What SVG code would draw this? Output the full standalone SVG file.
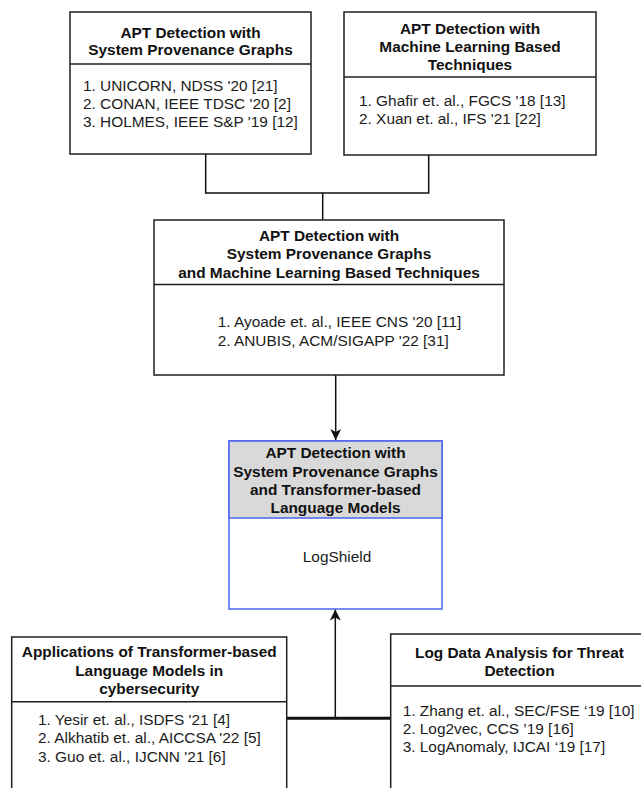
<svg xmlns="http://www.w3.org/2000/svg" width="641" height="788" viewBox="0 0 641 788">
<style>
  .box { fill: #ffffff; stroke: #1f1f1f; stroke-width: 1.5; }
  .div { stroke: #1f1f1f; stroke-width: 1.5; fill: none; }
  .bluebox { fill: #ffffff; stroke: #4a63f2; stroke-width: 1.5; }
  .bluehead { fill: #d9d9d9; stroke: #4a63f2; stroke-width: 1.5; }
  .t { font-family: "Liberation Sans", Arial, sans-serif; font-size: 15.4px; font-weight: bold; fill: #111111; text-anchor: middle; }
  .i { font-family: "Liberation Sans", Arial, sans-serif; font-size: 15.4px; fill: #1c1c1c; }
  .c { font-family: "Liberation Sans", Arial, sans-serif; font-size: 15.4px; fill: #1c1c1c; text-anchor: middle; }
  .conn { stroke: #111111; stroke-width: 1.5; fill: none; }
  .thick { stroke: #111111; stroke-width: 3; fill: none; }
</style>
<defs>
  <marker id="arrow" markerUnits="userSpaceOnUse" markerWidth="12" markerHeight="12" viewBox="0 0 12 12" refX="11" refY="6" orient="auto">
    <path d="M0,0.5 L11,6 L0,11.5 L3,6 z" fill="#111111"/>
  </marker>
</defs>
<rect width="641" height="788" fill="#ffffff"/>

<g id="connectors">
  <polyline class="conn" points="205.7,154 205.7,193 428.7,193 428.7,155"/>
  <line class="conn" x1="322.7" y1="193" x2="322.7" y2="220"/>
  <line class="conn" x1="335.7" y1="375" x2="335.7" y2="440" marker-end="url(#arrow)"/>
  <line class="thick" x1="287" y1="718.3" x2="391" y2="718.3"/>
  <line class="conn" x1="335.3" y1="718.3" x2="335.3" y2="609.5" marker-end="url(#arrow)"/>
</g>

<g id="node-spg">
  <rect class="box" x="70" y="12" width="241" height="142"/>
  <line class="div" x1="70" y1="64" x2="311" y2="64"/>
  <text class="t" x="190.5" y="37.5">APT Detection with</text>
  <text class="t" x="190.5" y="55">System Provenance Graphs</text>
  <text class="i" x="83" y="91">1. UNICORN, NDSS '20 [21]</text>
  <text class="i" x="83" y="109">2. CONAN, IEEE TDSC '20 [2]</text>
  <text class="i" x="83" y="127">3. HOLMES, IEEE S&amp;P '19 [12]</text>
</g>

<g id="node-ml">
  <rect class="box" x="344" y="12" width="252" height="143"/>
  <line class="div" x1="344" y1="77" x2="596" y2="77"/>
  <text class="t" x="470" y="34">APT Detection with</text>
  <text class="t" x="470" y="52">Machine Learning Based</text>
  <text class="t" x="470" y="70">Techniques</text>
  <text class="i" x="359" y="105.5">1. Ghafir et. al., FGCS '18 [13]</text>
  <text class="i" x="359" y="123.5">2. Xuan et. al., IFS '21 [22]</text>
</g>

<g id="node-spg-ml">
  <rect class="box" x="154" y="220" width="350" height="155"/>
  <line class="div" x1="154" y1="284.5" x2="504" y2="284.5"/>
  <text class="t" x="329" y="240.5">APT Detection with</text>
  <text class="t" x="329" y="259">System Provenance Graphs</text>
  <text class="t" x="329" y="277.5">and Machine Learning Based Techniques</text>
  <text class="i" x="217.7" y="327">1. Ayoade et. al., IEEE CNS '20 [11]</text>
  <text class="i" x="217.7" y="346">2. ANUBIS, ACM/SIGAPP '22 [31]</text>
</g>

<g id="node-logshield">
  <rect class="bluebox" x="229" y="441" width="213" height="168"/>
  <rect class="bluehead" x="229" y="441" width="213" height="77"/>
  <text class="t" x="335.5" y="458">APT Detection with</text>
  <text class="t" x="335.5" y="476.5">System Provenance Graphs</text>
  <text class="t" x="335.5" y="494.5">and Transformer-based</text>
  <text class="t" x="335.5" y="512.5">Language Models</text>
  <text class="c" x="337" y="562">LogShield</text>
</g>

<g id="node-transformer">
  <rect class="box" x="11.7" y="637" width="275" height="170"/>
  <line class="div" x1="11.7" y1="701.7" x2="286.7" y2="701.7"/>
  <text class="t" x="149.2" y="657">Applications of Transformer-based</text>
  <text class="t" x="149.2" y="675.5">Language Models in</text>
  <text class="t" x="149.2" y="693.5">cybersecurity</text>
  <text class="i" x="38" y="724.5">1. Yesir et. al., ISDFS '21 [4]</text>
  <text class="i" x="38" y="743">2. Alkhatib et. al., AICCSA '22 [5]</text>
  <text class="i" x="38" y="761.5">3. Guo et. al., IJCNN '21 [6]</text>
</g>

<g id="node-logdata">
  <rect class="box" x="390.7" y="634" width="258" height="170"/>
  <line class="div" x1="390.7" y1="686" x2="648.7" y2="686"/>
  <text class="t" x="519.5" y="658">Log Data Analysis for Threat</text>
  <text class="t" x="519.5" y="675.5">Detection</text>
  <text class="i" x="402.7" y="715.5">1. Zhang et. al., SEC/FSE ‘19 [10]</text>
  <text class="i" x="402.7" y="733.5">2. Log2vec, CCS ’19 [16]</text>
  <text class="i" x="402.7" y="752">3. LogAnomaly, IJCAI ‘19 [17]</text>
</g>
</svg>
